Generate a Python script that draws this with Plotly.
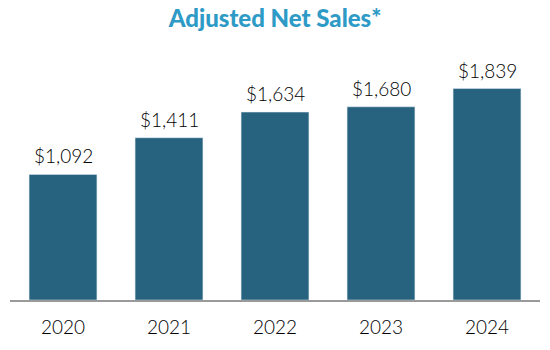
import plotly.graph_objects as go

years = ["2020", "2021", "2022", "2023", "2024"]
sales = [1092, 1411, 1634, 1680, 1839]
labels = ["$1,092", "$1,411", "$1,634", "$1,680", "$1,839"]

fig = go.Figure(go.Bar(
    x=years, y=sales,
    marker=dict(color="#27627e"),
))
for i, (y, t) in enumerate(zip(sales, labels)):
    fig.add_annotation(x=i, y=y, text=t, showarrow=False, yanchor="bottom", yshift=5,
                       font=dict(size=19, color="#000000", family="Lato", weight=300))
fig.update_layout(
    width=550, height=350, margin=dict(l=10, r=10, t=50, b=50),
    paper_bgcolor="white", plot_bgcolor="white",
    bargap=0.36, showlegend=False,
    title=dict(text="Adjusted Net Sales*", x=0.5, xanchor="center", y=0.947, yanchor="middle",
               font=dict(size=24, color="#2e9ac6", family="Lato", weight=900)),
    font=dict(family="Lato"),
)
fig.update_xaxes(type="category", range=[-0.5, len(years) - 0.5],
                 showline=True, linecolor="#9a9a9a", linewidth=2,
                 ticks="outside", ticklen=9, tickcolor="rgba(0,0,0,0)",
                 tickfont=dict(size=19, color="#000000", weight=300), showgrid=False)
fig.update_yaxes(visible=False, range=[0, 2174])
fig.write_html("out.html")
